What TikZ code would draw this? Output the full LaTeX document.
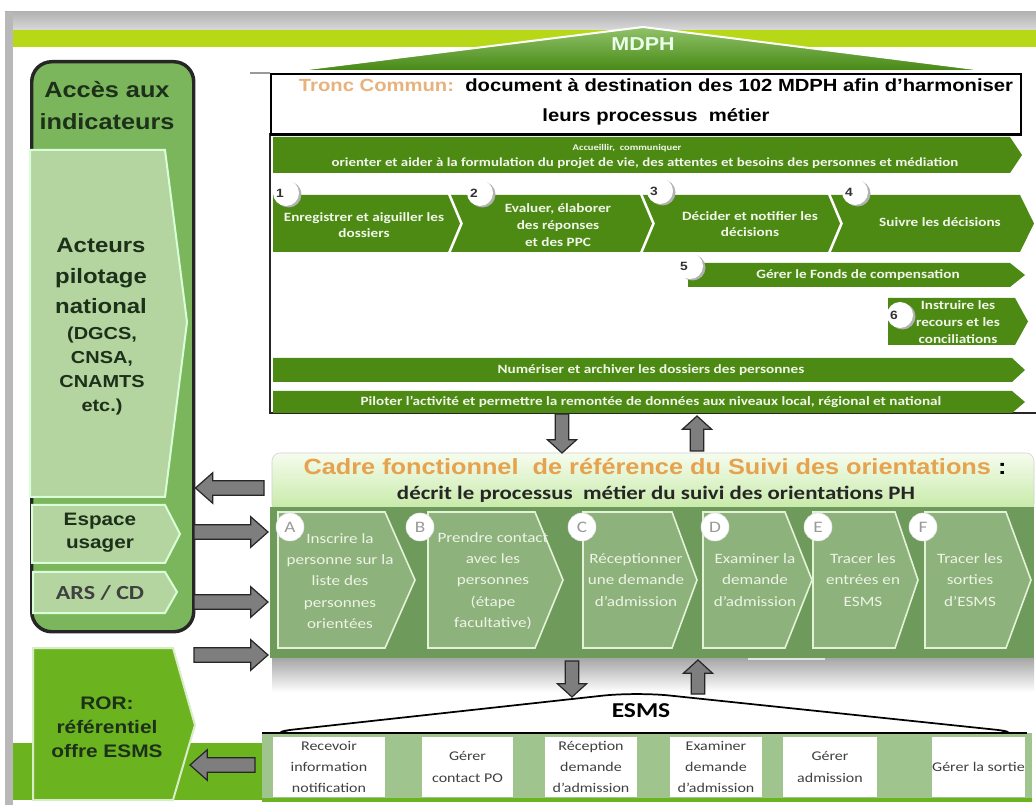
\documentclass[tikz,border=0pt]{standalone}
\usepackage{fontspec}
\setmainfont{Liberation Sans}
\newfontfamily\cb{Carlito}[FakeStretch=1.2]
\newfontfamily\hs{Liberation Sans}[FakeStretch=1.15]
\usetikzlibrary{calc}
\definecolor{dkgreen}{HTML}{4C8A14}
\definecolor{chevtext}{HTML}{F2F6EA}
\definecolor{lime}{HTML}{B7D816}
\definecolor{mdph}{HTML}{55A21A}
\definecolor{tan}{HTML}{E8B27C}
\definecolor{cadorange}{HTML}{E6A24E}
\definecolor{cadtop}{HTML}{F6FCEE}
\definecolor{cadbot}{HTML}{C4E9A4}
\definecolor{cadbody}{HTML}{6E9A5C}
\definecolor{cadstep}{HTML}{8DB27C}
\definecolor{stepline}{HTML}{E4F2D8}
\definecolor{steptext}{HTML}{EEF4E6}
\definecolor{esmsband}{HTML}{9FC48E}
\definecolor{ror}{HTML}{6BB41F}
\definecolor{colgreen}{HTML}{7CB65C}
\definecolor{sidelight}{HTML}{B4D4A0}
\definecolor{sidetext}{HTML}{1C301A}
\definecolor{arrgrey}{HTML}{7E7E7E}
\newcommand{\chevshape}[7]{\path[#1] (#2,#4) -- (#3,#4) -- ({#3+#6},{(#4+#5)/2}) -- (#3,#5) -- (#2,#5) -- ({#2+#7},{(#4+#5)/2}) -- cycle;}
\newcommand{\blockarr}[5]{%
  \path ($(#2)!#5!(#1)$) coordinate (ban);
  \draw[blockarrow] ($(#1)!#3!90:(#2)$) -- ($(ban)!#3!90:(#2)$) -- ($(ban)!#4!90:(#2)$) -- (#2) -- ($(ban)!#4!-90:(#2)$) -- ($(ban)!#3!-90:(#2)$) -- ($(#1)!#3!-90:(#2)$) -- cycle;}
\tikzset{
  chev/.style={fill=dkgreen},
  chevtxt/.style={font=\cb\bfseries\fontsize{9.5}{12.5}\selectfont, text=chevtext, align=center, inner sep=0pt},
  numshadow/.style={circle, fill=black!30, minimum size=19.5pt, inner sep=0pt},
  numcirc/.style={circle, fill=white, minimum size=19.5pt, inner sep=0pt},
  numtxt/.style={font=\hs\bfseries\fontsize{9}{10}\selectfont, text=black!80, inner sep=0pt},
  stepbox/.style={fill=cadstep, draw=stepline, line width=1.2pt},
  stepcirc/.style={circle, fill=white, draw=black!10, minimum size=21pt, inner sep=0pt, font=\cb\fontsize{12}{12}\selectfont, text=black!40},
  steptxt/.style={font=\cb\fontsize{10.7}{16}\selectfont, text=steptext, align=center, inner sep=0pt},
  esmsbox/.style={fill=white, inner sep=0pt, font=\cb\fontsize{10}{16}\selectfont, text=black!75, align=center},
  blockarrow/.style={fill=arrgrey, draw=black!85, line width=0.9pt, line join=miter},
  sidebox/.style={fill=sidelight, draw=white!85!green, line width=1.5pt},
  sidetxt/.style={text=sidetext, align=center, inner sep=0pt},
}
\begin{document}
\begin{tikzpicture}[x=0.75pt,y=-0.75pt]
\useasboundingbox (0,0) rectangle (1036,805);
\fill[white] (0,0) rectangle (1036,805);
% background bands
\shade[top color=black!30, bottom color=black!15] (5,12) rectangle (1036,30);
\fill[black!28] (5,12) rectangle (13,805);
\fill[lime] (13,30) rectangle (1036,47);
% MDPH hill
\shade[top color=mdph!65!white, bottom color=mdph!85!black] (300,70) -- (643,27) -- (983,70) -- cycle;
\draw[white, line width=1.5pt] (300,70) -- (643,27) -- (983,70);
\node[font=\hs\bfseries\fontsize{14}{15}\selectfont, text=white!92!green, inner sep=0pt] (mdph) at (643,44) {MDPH};
% Tronc commun frame
\draw[black!40, line width=1pt] (250,73) -- (270,73);
\draw[black!85, line width=1.2pt] (270,133) -- (270,413) -- (1036,413);
\node[draw=black, line width=1.2pt, fill=white, minimum width=562.5pt, minimum height=45pt, inner sep=0pt, anchor=north west] (tronc) at (270,73) {};
\draw[black, line width=2pt] (tronc.south west) -- (tronc.south east);
\node[font=\hs\bfseries\fontsize{13.2}{22}\selectfont, align=center, inner sep=0pt] (tronctxt) at (656,102) {\textcolor{tan}{Tronc Commun:}\ \ document à destination des 102 MDPH afin d’harmoniser\\leurs processus\ \ métier};
% chevrons
\chevshape{chev}{273}{1010}{137}{173}{12}{0}
\node[chevtxt, font=\cb\bfseries\fontsize{6.6}{8}\selectfont] (acc1) at (627,148) {Accueillir,\ \ communiquer};
\node[chevtxt, font=\cb\bfseries\fontsize{9.3}{11}\selectfont] (acc2) at (645,163) {orienter et aider à la formulation du projet de vie, des attentes et besoins des personnes et médiation};
\chevshape{chev}{273}{448}{195}{252}{12}{0}
\chevshape{chev}{451}{640}{195}{252}{12}{12}
\chevshape{chev}{643}{828}{195}{252}{12}{12}
\chevshape{chev}{831}{1020}{195}{252}{14}{12}
\node[chevtxt] (c1) at (364,225) {Enregistrer et aiguiller les\\dossiers};
\node[chevtxt] (c2) at (558,225) {Evaluer, élaborer\\des réponses\\et des PPC};
\node[chevtxt] (c3) at (750,224) {Décider et notifier les\\décisions};
\node[chevtxt] (c4) at (940,222) {Suivre les décisions};
\chevshape{chev}{688}{1010}{263}{287}{15}{0}
\node[chevtxt] (c5) at (858,275) {Gérer le Fonds de compensation};
\chevshape{chev}{888}{1015}{298}{345}{13}{0}
\node[chevtxt] (c6) at (958,322) {Instruire les\\recours et les\\conciliations};
\chevshape{chev}{273}{1012}{358}{382}{13}{0}
\node[chevtxt] (cnum) at (651,370) {Numériser et archiver les dossiers des personnes};
\chevshape{chev}{273}{1012}{391}{413}{13}{0}
\node[chevtxt] (cpil) at (651,402) {Piloter l’activité et permettre la remontée de données aux niveaux local, régional et national};
% number circles
\foreach \nx/\ny/\nn in {286/193/1, 480/193/2, 660/191/3, 855/192/4, 690/266/5, 900/315/6}{
  \node[numshadow] at (\nx+2.5,\ny+1.5) {};
  \node[numcirc] (num\nn) at (\nx,\ny) {};
  \node[numtxt] (numt\nn) at (\nx-6,\ny) {\nn};
}
% Cadre fonctionnel
\shade[top color=black!35, bottom color=white] (272,658) rectangle (1034,692);
\shade[top color=cadtop, bottom color=cadbot, draw=black!18, rounded corners=6pt] (272,453) rectangle (1034,512);
\node[fill=cadbody, inner sep=0pt, minimum width=573pt, minimum height=113.25pt, anchor=north west] (cadbody) at (270,507) {};
\node[font=\hs\bfseries\fontsize{16.5}{17}\selectfont, text=cadorange, inner sep=0pt] (cadt1) at (655,467) {Cadre fonctionnel\ \ de référence du Suivi des orientations\ \textcolor{black}{:}};
\node[font=\cb\bfseries\fontsize{14.3}{15}\selectfont, text=black!85, inner sep=0pt] (cadt2) at (656,494) {décrit le processus\ \ métier du suivi des orientations PH};
\chevshape{stepbox}{278}{385}{512}{648}{30}{0}
\chevshape{stepbox}{428}{535}{512}{648}{28}{0}
\chevshape{stepbox}{583}{672}{512}{648}{25}{0}
\chevshape{stepbox}{703}{785}{512}{648}{27}{0}
\chevshape{stepbox}{813}{895}{512}{648}{23}{0}
\chevshape{stepbox}{925}{1006}{512}{648}{25}{0}
\node[steptxt] (sA) at (340,581) {Inscrire la\\personne sur la\\liste des\\personnes\\orientées};
\node[steptxt] (sB) at (493,581) {Prendre contact\\avec les\\personnes\\(étape\\facultative)};
\node[steptxt] (sC) at (636,580) {Réceptionner\\une demande\\d’admission};
\node[steptxt] (sD) at (755,580) {Examiner la\\demande\\d’admission};
\node[steptxt] (sE) at (863,580) {Tracer les\\entrées en\\ESMS};
\node[steptxt] (sF) at (970,580) {Tracer les\\sorties\\d’ESMS};
\node[stepcirc] (cA) at (290,527) {A};
\node[stepcirc] (cB) at (420,527) {B};
\node[stepcirc] (cC) at (582,527) {C};
\node[stepcirc] (cD) at (715,527) {D};
\node[stepcirc] (cE) at (818,527) {E};
\node[stepcirc] (cF) at (923,527) {F};
\draw[white!90!black, line width=1.5pt] (748,659) -- (825,659);
% ESMS
\fill[esmsband] (262,733) rectangle (1032,800);
\fill[ror] (262,798) rectangle (1032,802);
\filldraw[fill=white, draw=black, line width=1.3pt, rounded corners=25pt] (262,733) -- (636,692) -- (1027,733) -- cycle;
\draw[black, line width=2pt] (262,733) -- (1027,733);
\node[font=\cb\bfseries\fontsize{15.9}{16}\selectfont, inner sep=0pt] (esms) at (641,711) {ESMS};
\node[esmsbox, minimum width=84pt, minimum height=45pt] (e1) at (329,767) {Recevoir\\information\\notification};
\node[esmsbox, minimum width=68.25pt, minimum height=45pt] (e2) at (467.5,767) {Gérer\\contact PO};
\node[esmsbox, minimum width=69pt, minimum height=45pt] (e3) at (591,767) {Réception\\demande\\d’admission};
\node[esmsbox, minimum width=69pt, minimum height=45pt] (e4) at (716,767) {Examiner\\demande\\d’admission};
\node[esmsbox, minimum width=70.5pt, minimum height=45pt] (e5) at (830,767) {Gérer\\admission};
\node[esmsbox, minimum width=69.75pt, minimum height=45pt] (e6) at (978.5,767) {Gérer la sortie};
% left column
\node[draw=black!85, line width=2.6pt, fill=colgreen, rounded corners=15pt, minimum width=121.5pt, minimum height=427.5pt, inner sep=0pt, anchor=north west] (leftcol) at (30,60) {};
\node[sidetxt, font=\hs\bfseries\fontsize{16.5}{24}\selectfont] (acces) at (107,106) {Accès aux\\indicateurs};
\filldraw[sidebox] (30,150) -- (165,150) -- (187,322) -- (165,497) -- (30,497) -- cycle;
\node[sidetxt, font=\hs\bfseries\fontsize{15.6}{23}\selectfont] (act1) at (101,276) {Acteurs\\pilotage\\national};
\node[sidetxt, font=\hs\bfseries\fontsize{13}{18}\selectfont] (act2) at (102,371) {(DGCS,\\CNSA,\\CNAMTS\\etc.)};
\filldraw[sidebox] (32,505) -- (165,505) -- (180,534) -- (165,563) -- (32,563) -- cycle;
\node[sidetxt, font=\hs\bfseries\fontsize{13.5}{17}\selectfont] (esp) at (100,533) {Espace\\usager};
\filldraw[sidebox] (33,572) -- (165,572) -- (177,592) -- (165,613) -- (33,613) -- cycle;
\node[sidetxt, font=\cb\bfseries\fontsize{15}{16}\selectfont, text=black!75] (ars) at (100,593) {ARS / CD};
% ROR
\fill[ror] (13,743) rectangle (262,800);
\filldraw[fill=ror, draw=white!75!ror, line width=1.5pt] (33,648) -- (173,648) -- (195,725) -- (173,800) -- (33,800) -- cycle;
\node[sidetxt, font=\hs\bfseries\fontsize{13.6}{18}\selectfont] (ror) at (107,727) {ROR:\\référentiel\\offre ESMS};
% block arrow connectors
\coordinate (frA) at (562,414); \coordinate (cdA) at (562,453);
\coordinate (cdB) at (697,451); \coordinate (frB) at (697,416);
\coordinate (cdC) at (572,661); \coordinate (esC) at (572,697);
\coordinate (esD) at (698,694); \coordinate (cdD) at (698,660);
\coordinate (cdL) at (264,488); \coordinate (lcL) at (leftcol.east |- cdL);
\coordinate (usS) at (194,532); \coordinate (cdU) at (268,532);
\coordinate (arS) at (194,602); \coordinate (cdR) at (268,602);
\coordinate (lcS) at (194,655); \coordinate (cdS) at (268,655);
\coordinate (esL) at (255,765); \coordinate (roL) at (190,765);
\blockarr{frA}{cdA}{5pt}{11pt}{10pt}
\blockarr{cdB}{frB}{5pt}{11pt}{10pt}
\blockarr{cdC}{esC}{5pt}{11pt}{10pt}
\blockarr{esD}{cdD}{5pt}{11pt}{10pt}
\blockarr{cdL}{lcL}{5.5pt}{11.5pt}{13pt}
\blockarr{usS}{cdU}{5.5pt}{11.5pt}{13pt}
\blockarr{arS}{cdR}{5.5pt}{11.5pt}{13pt}
\blockarr{lcS}{cdS}{5.5pt}{11.5pt}{13pt}
\blockarr{esL}{roL}{5.5pt}{11.5pt}{13pt}
\end{tikzpicture}
\end{document}
